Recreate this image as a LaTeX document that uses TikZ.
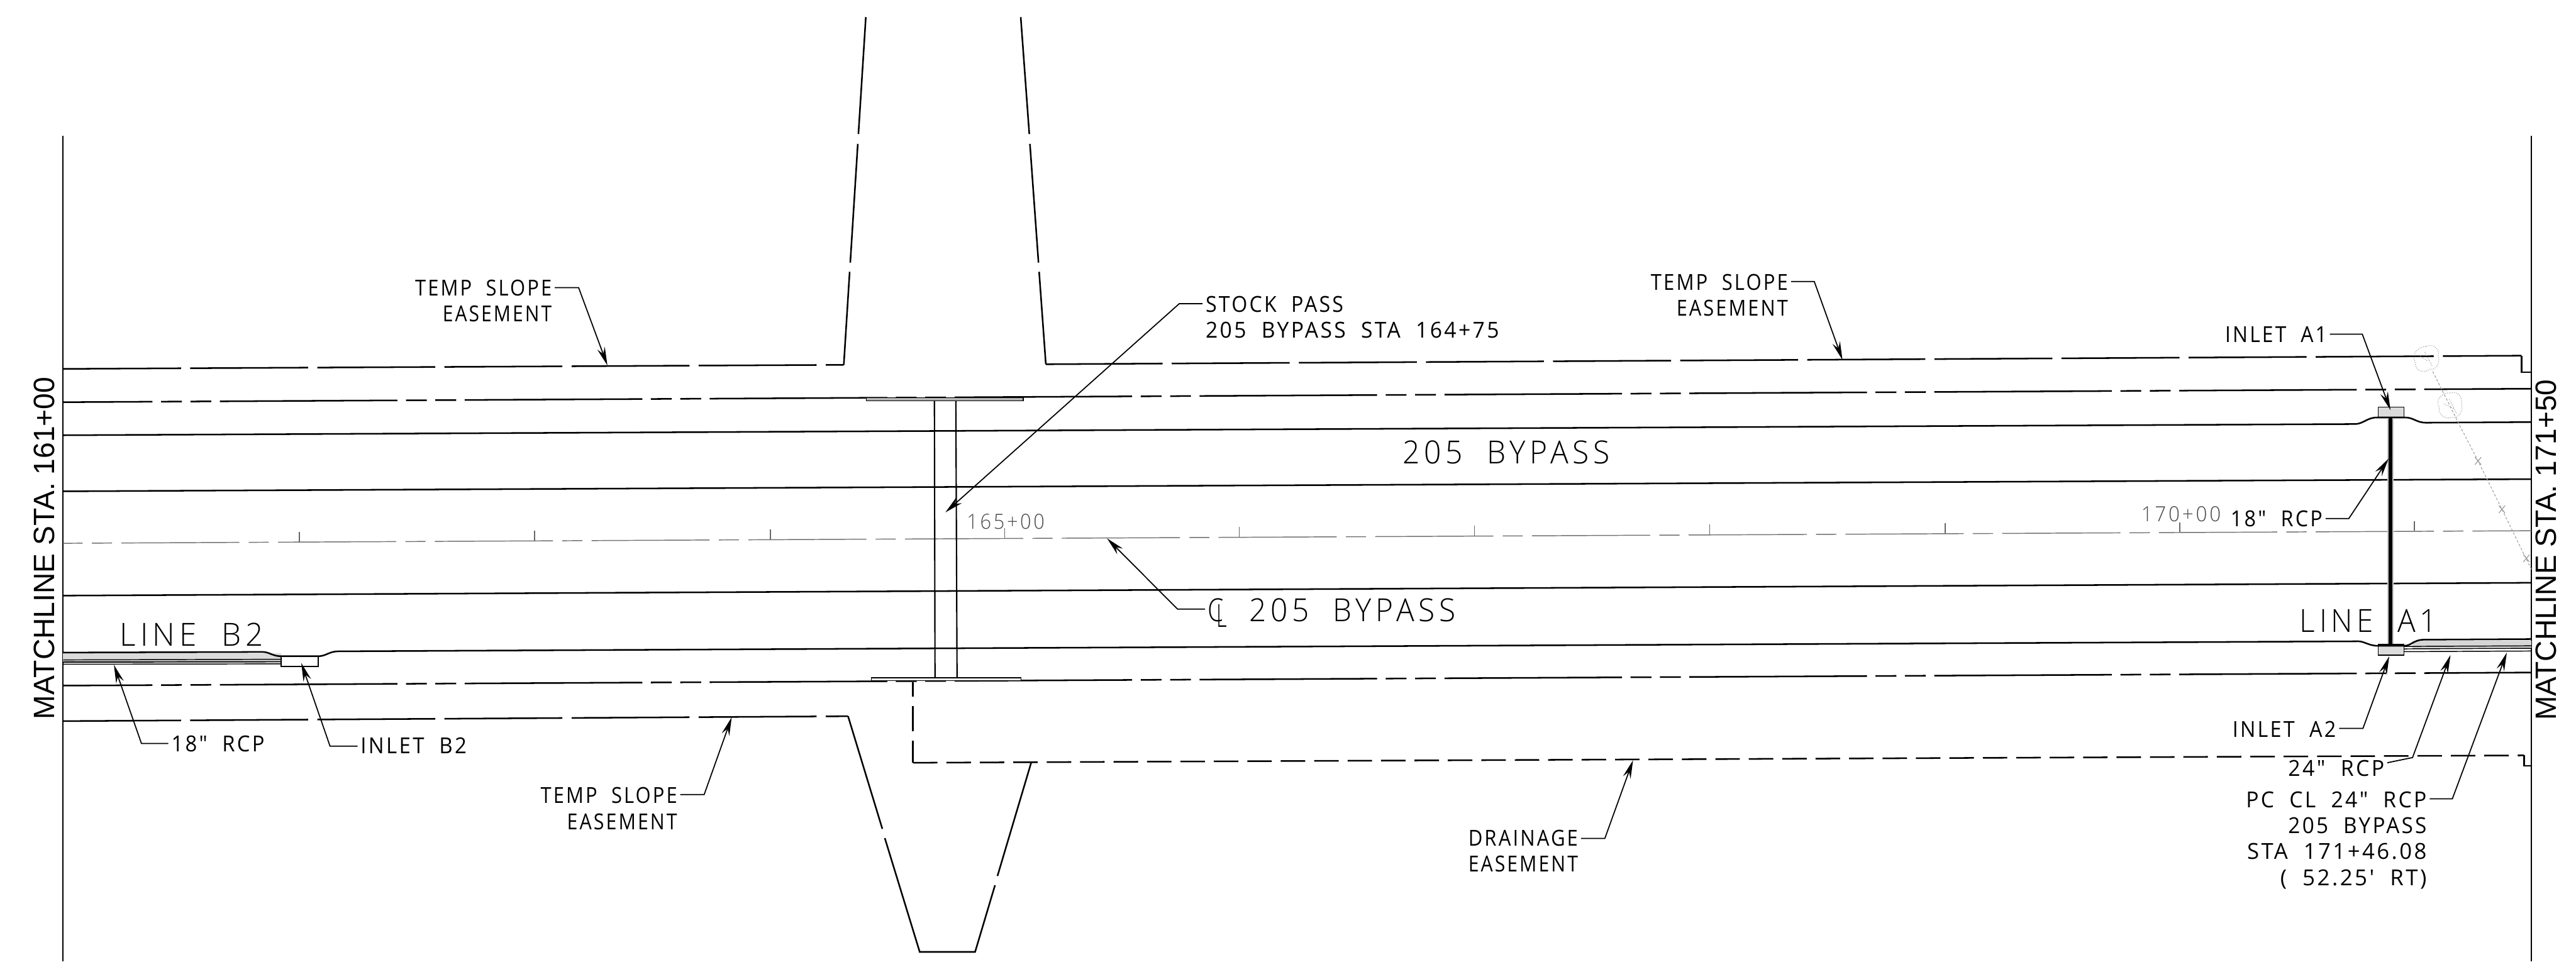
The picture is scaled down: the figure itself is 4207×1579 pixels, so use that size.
\documentclass[tikz,border=0pt]{standalone}
\usepackage{graphicx}
\usepackage{fontspec}
\usetikzlibrary{arrows.meta}
\newfontfamily\cad{Open Sans}[LetterSpace=10,WordSpace=2]
\newfontfamily\cadbig{Open Sans}[UprightFont=* Light,LetterSpace=14,WordSpace=2]
\newfontfamily\cadthin{Open Sans}[UprightFont=* Light,LetterSpace=12]
\newfontfamily\arialish{Liberation Sans}
\newlength\fitlen
\newcommand\fit[2]{\settowidth{\fitlen}{#2}\pgfmathsetmacro\fitr{#1/\fitlen}\scalebox{\fitr}[1]{#2}}
\tikzset{
  road/.style={line width=2.6pt,black},
  ease/.style={road,dash pattern=on 192.6pt off 15pt},
  wdash/.style={road,dash pattern=on 290pt off 14pt on 34pt off 14pt on 34pt off 14pt,dash phase=144pt},
  drain/.style={road,dash pattern=on 40pt off 14.6pt},
  cline/.style={line width=1.5pt,black!55,dash pattern=on 193pt off 15pt on 33pt off 15pt},
  leader/.style={line width=1.8pt,black,-{Stealth[length=30pt,width=13pt,inset=10pt]},shorten <=5pt},
  tickmark/.style={line width=1.5pt,black!60},
  txt/.style={anchor=base west,inner sep=0pt,outer sep=0pt,font=\cad\fontsize{36pt}{36pt}\selectfont},
  big/.style={txt,font=\cadbig\fontsize{52pt}{52pt}\selectfont},
  sta/.style={txt,text=black!70,font=\cadthin\fontsize{34pt}{34pt}\selectfont},
  match/.style={anchor=base west,rotate=90,inner sep=0pt,outer sep=0pt,font=\arialish\fontsize{48pt}{48pt}\selectfont},
  halo/.style={line width=10pt,black!22},
  treeline/.style={line width=1.1pt,black!40,dotted},
  fence/.style={line width=1.2pt,black!35,dash pattern=on 4pt off 3pt},
  fmark/.style={line width=1.2pt,black!40},
}
\begin{document}
\begin{tikzpicture}[x=1pt,y=-1pt]
\useasboundingbox (0,0) rectangle (4207,1579);
% matchlines
\draw[line width=2.4pt] (102.5,222) -- (102.5,1570);
\draw[line width=2.4pt] (4134,222) -- (4134,1570);
\node[match] (ml) at (89,1175) {\fit{559}{MATCHLINE STA. 161+00}};
\node[match] (mr) at (4175,1177) {\fit{557}{MATCHLINE STA. 171+50}};
% shaded pipe areas
\fill[black!14] (103,1067) rectangle (459,1080);
\fill[black!16] (3940,1047) rectangle (4134,1060);
\fill[black!14] (3884,1053) rectangle (3926,1070);
\fill[black!14] (3884,665) rectangle (3926,682);
% temp slope easement, north
\draw[ease] (103,602.6) -- (1378,596);
\draw[road] (1378,596) -- (1387.6,444);
\draw[road] (1388.6,429) -- (1400.9,235);
\draw[road] (1401.9,219) -- (1414,28);
\draw[road] (1667,28) -- (1681,219);
\draw[road] (1682,235) -- (1696,429);
\draw[road] (1697,444) -- (1708,595);
\draw[ease,dash phase=2pt] (1708,595) -- (4118,581);
\draw[road] (4118,581) -- (4118,608) -- (4134,608);
% road lines
\draw[wdash] (103,657) -- (4134,635);
\draw[road] (103,711) -- (3847,692.7) .. controls (3860,692) and (3866,682) .. (3882,682) -- (3928,682) .. controls (3942,682) and (3946,690.5) .. (3962,690.5) -- (4134,689.5);
\draw[road] (103,802.6) -- (4134,782.7);
\draw[cline,dash phase=161pt] (103,887.5) -- (4134,867);
\draw[road] (103,973) -- (4134,952);
\draw[road] (103,1066) -- (429,1065) .. controls (440,1065) and (445,1072) .. (459,1072) -- (520,1072) .. controls (532,1072) and (538,1064) .. (552,1064) -- (3851,1047.6) .. controls (3862,1047.6) and (3868,1055) .. (3884,1055) -- (3926,1055) .. controls (3938,1055) and (3942,1045) .. (3958,1045) -- (4134,1044);
\draw[wdash] (103,1120) -- (4134,1098.6);
% temp slope easement, south
\draw[ease] (103,1178) -- (1385,1170);
\draw[road] (1385,1170) -- (1441,1354);
\draw[road] (1445,1369) -- (1502,1555) -- (1592.5,1555) -- (1625,1446);
\draw[road] (1629,1431) -- (1684,1246);
% drainage easement
\draw[road] (1491,1114) -- (1491,1138);
\draw[road] (1491,1153) -- (1491,1195);
\draw[road] (1491,1210) -- (1491,1246);
\draw[drain] (1491,1246) -- (4122,1234);
\draw[road] (4122,1234) -- (4122,1251) -- (4134,1251);
% centreline ticks
\foreach \t/\y in {489/885,873/883,1258/881,1641/879,2024/877,2408/875,2792/873,3177/871,3560/869,3943/867}{
  \draw[tickmark] (\t,\y) -- ++(0,-16);
}
% stock pass
\draw[line width=2.2pt] (1526,650.5) -- (1527,1108);
\draw[line width=2.2pt] (1561,650.5) -- (1563,1108);
\draw[line width=1.6pt,fill=black!30] (1415,649.5) rectangle (1671,654.6);
\draw[line width=1.6pt,fill=white] (1423,1107) rectangle (1667.5,1112);
% pipes and inlets
\draw[halo] (3904,682) -- (3904,1053);
\draw[line width=6pt] (3904,682) -- (3904,1053);
\draw[line width=1.8pt] (3884,665) rectangle (3926,682);
\draw[line width=1.8pt] (3884,1053) rectangle (3926,1070);
\draw[line width=1.5pt] (3926,1056) -- (4134,1055);
\draw[line width=1.5pt] (3926,1060) -- (4134,1059);
\draw[line width=1.5pt] (3926,1064.5) -- (4134,1063.5);
\draw[line width=1.8pt] (459,1072) rectangle (520,1089);
\draw[line width=1.5pt] (103,1078) -- (459,1077);
\draw[line width=2pt] (103,1081.5) -- (459,1081);
\draw[line width=1.5pt] (103,1085) -- (459,1084.5);
% trees and fence
\draw[fence] (3973,607) -- (4016,693) -- (4047,753) -- (4086,832) -- (4134,930);
\draw[treeline] (3962,566) .. controls (3975,560) and (3985,572) .. (3982,580) .. controls (3986,592) and (3978,606) .. (3968,603) .. controls (3958,612) and (3942,604) .. (3945,592) .. controls (3936,582) and (3948,566) .. (3962,566);
\draw[treeline] (3950,580) -- (3965,590) (3960,575) -- (3972,598);
\draw[treeline] (4002,642) .. controls (4015,638) and (4022,650) .. (4020,660) .. controls (4024,672) and (4014,684) .. (4004,682) .. controls (3994,686) and (3980,676) .. (3984,666) .. controls (3976,654) and (3988,640) .. (4002,642);
\draw[treeline] (3992,660) -- (4008,668) (4000,652) -- (4012,676);
\foreach \fx/\fy in {4047/753,4086/832,4126/912}{
  \draw[fmark] (\fx-5,\fy-6) -- (\fx+5,\fy+6) (\fx+5,\fy-6) -- (\fx-5,\fy+6);
}
% station labels
\node[sta] (s165) at (1579,864) {\fit{127}{165+00}};
\node[sta] (s170) at (3497,852) {\fit{130}{170+00}};
% big labels
\node[big] (lineb) at (196,1055) {\fit{234}{LINE B2}};
\node[big] (linea) at (3756,1033) {\fit{224}{LINE A1}};
\node[big] (byp) at (2291,757) {\fit{338}{205 BYPASS}};
\node[big] (clb) at (2040,1015) {\fit{337}{205 BYPASS}};
\node[big] (clm) at (1973,1015) {\fit{26}{C}};
\node[big] (cll) at (1987,1025) {\fit{17}{L}};
% notes
\node[txt] (tsa) at (678,483) {\fit{223}{TEMP SLOPE}};
\node[txt] (tsb) at (723,525) {\fit{178}{EASEMENT}};
\node[txt] (tca) at (2696,474) {\fit{224}{TEMP SLOPE}};
\node[txt] (tcb) at (2738,516) {\fit{182}{EASEMENT}};
\node[txt] (spa) at (1969,510) {\fit{225}{STOCK PASS}};
\node[txt] (spb) at (1969,552) {\fit{479}{205 BYPASS STA 164+75}};
\node[txt] (tda) at (883,1312) {\fit{223}{TEMP SLOPE}};
\node[txt] (tdb) at (926,1355) {\fit{180}{EASEMENT}};
\node[txt] (dra) at (2398,1382) {\fit{179}{DRAINAGE}};
\node[txt] (drb) at (2398,1424) {\fit{179}{EASEMENT}};
\node[txt] (rb) at (280,1228) {\fit{152}{18" RCP}};
\node[txt] (ib) at (589,1231) {\fit{173}{INLET B2}};
\node[txt] (iaa) at (3634,559) {\fit{166}{INLET A1}};
\node[txt] (ra) at (3643,860) {\fit{150}{18" RCP}};
\node[txt] (iab) at (3646,1204) {\fit{169}{INLET A2}};
\node[txt] (rc) at (3737,1268) {\fit{157}{24" RCP}};
\node[txt] (pca) at (3668,1319) {\fit{295}{PC CL 24" RCP}};
\node[txt] (pcb) at (3737,1361) {\fit{226}{205 BYPASS}};
\node[txt] (pcc) at (3670,1404) {\fit{293}{STA 171+46.08}};
\node[txt] (pcd) at (3724,1447) {\fit{239}{( 52.25' RT)}};
% leader points
\coordinate (e1) at (945,470);   \coordinate (t1) at (992,597);
\coordinate (e2) at (2963,460);  \coordinate (t2) at (3009,588);
\coordinate (e3) at (1926,496);  \coordinate (t3) at (1544,837);
\coordinate (e4) at (1150,1298); \coordinate (t4) at (1195,1171.6);
\coordinate (e5) at (2621,1369.5); \coordinate (t5) at (2667,1241.8);
\coordinate (e6) at (231,1214.5); \coordinate (t6) at (186,1086);
\coordinate (e7) at (539,1219);  \coordinate (t7) at (492,1083);
\coordinate (e8) at (3858,546);  \coordinate (t8) at (3904,670);
\coordinate (e9) at (3836,847);  \coordinate (t9) at (3901,749);
\coordinate (e10) at (3859,1190); \coordinate (t10) at (3902,1072);
\coordinate (e11) at (3940,1237.5); \coordinate (t11) at (4002,1070);
\coordinate (e12) at (4005,1305); \coordinate (t12) at (4094,1066);
\coordinate (e13) at (1923,995); \coordinate (t13) at (1808,879.5);
\coordinate (s11) at (3896,1247);
% leaders
\draw[leader] (tsa.east |- e1) -- (e1) -- (t1);
\draw[leader] (tca.east |- e2) -- (e2) -- (t2);
\draw[leader] (spa.west |- e3) -- (e3) -- (t3);
\draw[leader] (tda.east |- e4) -- (e4) -- (t4);
\draw[leader] (dra.east |- e5) -- (e5) -- (t5);
\draw[leader] (rb.west |- e6) -- (e6) -- (t6);
\draw[leader] (ib.west |- e7) -- (e7) -- (t7);
\draw[leader] (iaa.east |- e8) -- (e8) -- (t8);
\draw[leader] (ra.east |- e9) -- (e9) -- (t9);
\draw[leader] (iab.east |- e10) -- (e10) -- (t10);
\draw[leader] (rc.east |- s11) -- (e11) -- (t11);
\draw[leader] (pca.east |- e12) -- (e12) -- (t12);
\draw[leader] (clm.west |- e13) -- (e13) -- (t13);
\end{tikzpicture}
\end{document}
